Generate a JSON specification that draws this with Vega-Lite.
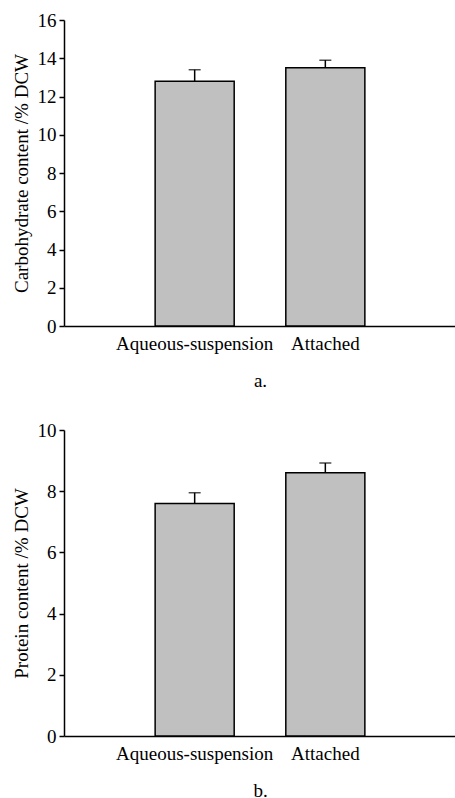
{
  "$schema": "https://vega.github.io/schema/vega-lite/v6.json",
  "padding": {"left": 12, "top": 11, "right": 0, "bottom": 0},
  "spacing": 31,
  "config": {
    "view": {"stroke": null},
    "axis": {
      "labelFont": "Liberation Serif",
      "titleFont": "Liberation Serif",
      "labelFontSize": 19,
      "titleFontSize": 19,
      "titleFontWeight": "normal",
      "labelColor": "#000",
      "titleColor": "#000",
      "domainColor": "#000",
      "tickColor": "#000",
      "domainWidth": 1.5,
      "tickWidth": 1.5,
      "labelOverlap": false,
      "grid": false
    }
  },
  "datasets": {
    "carb": [
      {"group": "Aqueous-suspension", "value": 12.8, "upper": 13.4},
      {"group": "Attached", "value": 13.5, "upper": 13.9}
    ],
    "prot": [
      {"group": "Aqueous-suspension", "value": 7.6, "upper": 7.95},
      {"group": "Attached", "value": 8.6, "upper": 8.92}
    ]
  },
  "vconcat": [
    {
      "width": 392,
      "height": 306,
      "data": {"name": "carb"},
      "layer": [
        {
          "mark": {"type": "bar", "fill": "#c0c0c0", "stroke": "#000", "strokeWidth": 1.5},
          "encoding": {
            "x": {"field": "group", "type": "nominal", "sort": null,
              "scale": {"paddingInner": 0.395, "paddingOuter": 0.6975},
              "axis": {"title": "a.", "labelAngle": 0, "ticks": false, "labelPadding": 8, "titlePadding": 18, "labelLimit": 0, "labelFont": "Liberation Serif", "labelFontSize": 19, "titleFont": "Liberation Serif", "titleFontSize": 19}},
            "y": {"field": "value", "type": "quantitative",
              "scale": {"domain": [0, 16], "nice": false},
              "axis": {"title": "Carbohydrate content /% DCW", "values": [0, 2, 4, 6, 8, 10, 12, 14, 16], "tickSize": 5, "labelPadding": 3, "titlePadding": 6, "labelOverlap": false, "labelFont": "Liberation Serif", "labelFontSize": 19, "titleFont": "Liberation Serif", "titleFontSize": 19}}
          }
        },
        {
          "mark": {"type": "rule", "color": "#000", "strokeWidth": 1.5},
          "encoding": {
            "x": {"field": "group", "type": "nominal", "sort": null,
              "axis": {"title": "a.", "labelAngle": 0, "ticks": false, "labelPadding": 8, "titlePadding": 18, "labelLimit": 0, "labelFont": "Liberation Serif", "labelFontSize": 19, "titleFont": "Liberation Serif", "titleFontSize": 19}},
            "y": {"field": "value", "type": "quantitative",
              "axis": {"title": "Carbohydrate content /% DCW", "values": [0, 2, 4, 6, 8, 10, 12, 14, 16], "tickSize": 5, "labelPadding": 3, "titlePadding": 6, "labelOverlap": false, "labelFont": "Liberation Serif", "labelFontSize": 19, "titleFont": "Liberation Serif", "titleFontSize": 19}},
            "y2": {"field": "upper"}
          }
        },
        {
          "mark": {"type": "tick", "color": "#000", "size": 12, "thickness": 1.5, "orient": "horizontal"},
          "encoding": {
            "x": {"field": "group", "type": "nominal", "sort": null,
              "axis": {"title": "a.", "labelAngle": 0, "ticks": false, "labelPadding": 8, "titlePadding": 18, "labelLimit": 0, "labelFont": "Liberation Serif", "labelFontSize": 19, "titleFont": "Liberation Serif", "titleFontSize": 19}},
            "y": {"field": "upper", "type": "quantitative",
              "axis": {"title": "Carbohydrate content /% DCW", "values": [0, 2, 4, 6, 8, 10, 12, 14, 16], "tickSize": 5, "labelPadding": 3, "titlePadding": 6, "labelOverlap": false, "labelFont": "Liberation Serif", "labelFontSize": 19, "titleFont": "Liberation Serif", "titleFontSize": 19}}
          }
        }
      ]
    },
    {
      "width": 392,
      "height": 306,
      "data": {"name": "prot"},
      "layer": [
        {
          "mark": {"type": "bar", "fill": "#c0c0c0", "stroke": "#000", "strokeWidth": 1.5},
          "encoding": {
            "x": {"field": "group", "type": "nominal", "sort": null,
              "scale": {"paddingInner": 0.395, "paddingOuter": 0.6975},
              "axis": {"title": "b.", "labelAngle": 0, "ticks": false, "labelPadding": 8, "titlePadding": 18, "labelLimit": 0, "labelFont": "Liberation Serif", "labelFontSize": 19, "titleFont": "Liberation Serif", "titleFontSize": 19}},
            "y": {"field": "value", "type": "quantitative",
              "scale": {"domain": [0, 10], "nice": false},
              "axis": {"title": "Protein content /% DCW", "values": [0, 2, 4, 6, 8, 10], "tickSize": 5, "labelPadding": 3, "titlePadding": 6, "labelOverlap": false, "labelFont": "Liberation Serif", "labelFontSize": 19, "titleFont": "Liberation Serif", "titleFontSize": 19}}
          }
        },
        {
          "mark": {"type": "rule", "color": "#000", "strokeWidth": 1.5},
          "encoding": {
            "x": {"field": "group", "type": "nominal", "sort": null,
              "axis": {"title": "b.", "labelAngle": 0, "ticks": false, "labelPadding": 8, "titlePadding": 18, "labelLimit": 0, "labelFont": "Liberation Serif", "labelFontSize": 19, "titleFont": "Liberation Serif", "titleFontSize": 19}},
            "y": {"field": "value", "type": "quantitative",
              "axis": {"title": "Protein content /% DCW", "values": [0, 2, 4, 6, 8, 10], "tickSize": 5, "labelPadding": 3, "titlePadding": 6, "labelOverlap": false, "labelFont": "Liberation Serif", "labelFontSize": 19, "titleFont": "Liberation Serif", "titleFontSize": 19}},
            "y2": {"field": "upper"}
          }
        },
        {
          "mark": {"type": "tick", "color": "#000", "size": 12, "thickness": 1.5, "orient": "horizontal"},
          "encoding": {
            "x": {"field": "group", "type": "nominal", "sort": null,
              "axis": {"title": "b.", "labelAngle": 0, "ticks": false, "labelPadding": 8, "titlePadding": 18, "labelLimit": 0, "labelFont": "Liberation Serif", "labelFontSize": 19, "titleFont": "Liberation Serif", "titleFontSize": 19}},
            "y": {"field": "upper", "type": "quantitative",
              "axis": {"title": "Protein content /% DCW", "values": [0, 2, 4, 6, 8, 10], "tickSize": 5, "labelPadding": 3, "titlePadding": 6, "labelOverlap": false, "labelFont": "Liberation Serif", "labelFontSize": 19, "titleFont": "Liberation Serif", "titleFontSize": 19}}
          }
        }
      ]
    }
  ]
}
